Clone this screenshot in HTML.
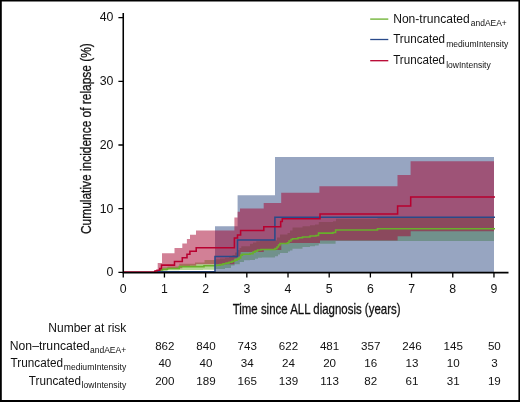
<!DOCTYPE html>
<html><head><meta charset="utf-8"><title>Cumulative incidence of relapse</title>
<style>html,body{margin:0;padding:0;background:#fff;}body{width:520px;height:402px;overflow:hidden;font-family:"Liberation Sans",sans-serif;}</style></head>
<body>
<svg width="520" height="402" viewBox="0 0 520 402" style="display:block;will-change:transform" font-family="'Liberation Sans', sans-serif" fill="#111">
<rect x="0" y="0" width="520" height="402" fill="#fff"/>
<path d="M156,272 H158 V270.5 H160 V269 H162.5 V267.5 H167.5 V266.6 H179.3 V263.7 H195 V262.5 H204.5 V260.1 H215 V259.2 H220 V258.5 H225 V257.8 H229 V256.5 H232.5 V255 H235 V252.5 H237.5 V250 H239.5 V248 H241.25 V246.3 H250 V243.75 H253 V242.5 H256.25 V241.25 H260 V240.5 H275 V240.3 H277 V237.5 H280 V234.4 H287.5 V233 H290 V230.6 H292.5 V227.5 H302.5 V226.25 H310 V225.3 H315 V224.4 H318.75 V221.9 H333 V221.3 H336 V218.75 H377.5 V217.6 H494 V241.1 H335.6 V243.75 H318.75 V245.6 H315 V246.2 H310 V247 H302.5 V248.75 H292.5 V250.6 H290 V251.5 H288 V253.1 H280 V254.5 H278 V256.3 H275 V257.4 H262 V257.8 H258 V258.8 H255 V260.0 H250 V260.25 H244 V262.0 H239.8 V264.2 H234.6 V265.5 H231 V268.1 H225 V269.1 H215 V269.8 H203 V270 H179.3 V270.3 H167.5 V271 H162.5 V272 H156 Z" fill="#68b02b" fill-opacity="0.5"/>
<path d="M215,272 H215 V226.25 H237.6 V195.3 H275 V157 H494 V272.4 H215 Z" fill="#2f4b83" fill-opacity="0.5"/>
<path d="M154.5,272 H155 V270 H157.7 V263.1 H162 V253.2 H174.5 V248.1 H182.3 V243.5 H186.9 V239 H190 V234.75 H196 V230.6 H234.4 V217.5 H237.6 V211.8 H240 V208.4 H263.7 V203 H281.2 V192.8 H319.4 V186.3 H397.5 V175 H410.6 V161.25 H494 V231.25 H410.7 V236.25 H397.6 V240.6 H320 V243 H281.3 V250 H263.8 V252 H240.6 V256.5 H237.5 V258.5 H234.4 V264.2 H196.2 V265.8 H189.9 V266.2 H187 V266.5 H182.3 V268.2 H174.5 V268.8 H161.5 V271 H158 V272 H154.5 Z" fill="#a5022d" fill-opacity="0.5"/>
<path d="M155,272 H157 V271 H160 V270 H162.5 V269.2 H167.5 V268.5 H179.3 V266.6 H199 V266.6 H204 V265.8 H216 V265.2 H220 V264.6 H223 V263.8 H226 V263.1 H229 V262.2 H232 V261.3 H234.6 V260.1 H237 V259.1 H239 V258.0 H240.7 V255.1 H242.4 V254.2 H250 V253.6 H253 V252.1 H255 V251.1 H257.5 V250.0 H261 V249.5 H275 V248.6 H277 V247 H278.5 V245 H280 V243.5 H287.5 V242.7 H289 V241 H291 V239.5 H292.5 V238.7 H298 V237.8 H302.5 V236.9 H310 V236 H316 V235.5 H318.5 V233.1 H333 V232.5 H335.6 V230 H377.5 V228.75 H495" fill="none" stroke="#68b02b" stroke-width="1.55"/>
<path d="M157,271.8 H215 V256.4 H237.5 V240 H274.9 V217.3 H495" fill="none" stroke="#294a8a" stroke-width="1.55"/>
<path d="M123.3,272.1 H154.9 V271 H157 V270.2 H159.8 V268.6 H161.5 V265.1 H174.5 V261.4 H182.3 V257.8 H187 V254.2 H189.9 V251.25 H196.2 V247.7 H234.4 V238 H237.5 V235 H240.6 V230.5 H263.8 V226.8 H280.7 V221.5 H282.3 V218.8 H320 V214 H397.6 V206 H410.7 V197 H495" fill="none" stroke="#b8002f" stroke-width="1.55"/>
<path d="M123.25,13 V272.6 M122.55,272.6 H508.5" fill="none" stroke="#000" stroke-width="1.55"/>
<path d="M123.25,272.6 V277.4 M164.44,272.6 V277.4 M205.63,272.6 V277.4 M246.82,272.6 V277.4 M288.01,272.6 V277.4 M329.20,272.6 V277.4 M370.39,272.6 V277.4 M411.58,272.6 V277.4 M452.77,272.6 V277.4 M493.96,272.6 V277.4 M118.4,272.40 H123.25 M118.4,208.70 H123.25 M118.4,145.00 H123.25 M118.4,81.30 H123.25 M118.4,17.60 H123.25 " fill="none" stroke="#000" stroke-width="1.3"/>
<text x="123.25" y="292.5" font-size="12.3" text-anchor="middle">0</text>
<text x="164.44" y="292.5" font-size="12.3" text-anchor="middle">1</text>
<text x="205.63" y="292.5" font-size="12.3" text-anchor="middle">2</text>
<text x="246.82" y="292.5" font-size="12.3" text-anchor="middle">3</text>
<text x="288.01" y="292.5" font-size="12.3" text-anchor="middle">4</text>
<text x="329.20" y="292.5" font-size="12.3" text-anchor="middle">5</text>
<text x="370.39" y="292.5" font-size="12.3" text-anchor="middle">6</text>
<text x="411.58" y="292.5" font-size="12.3" text-anchor="middle">7</text>
<text x="452.77" y="292.5" font-size="12.3" text-anchor="middle">8</text>
<text x="493.96" y="292.5" font-size="12.3" text-anchor="middle">9</text>
<text x="113.4" y="276.20" font-size="12.3" text-anchor="end">0</text>
<text x="113.4" y="212.50" font-size="12.3" text-anchor="end">10</text>
<text x="113.4" y="148.80" font-size="12.3" text-anchor="end">20</text>
<text x="113.4" y="85.10" font-size="12.3" text-anchor="end">30</text>
<text x="113.4" y="21.40" font-size="12.3" text-anchor="end">40</text>
<text x="232.7" y="313.8" font-size="15" textLength="167.8" lengthAdjust="spacingAndGlyphs" stroke="#111" stroke-width="0.3">Time since ALL diagnosis (years)</text>
<text transform="translate(90.5,234) rotate(-90)" font-size="15" textLength="190.8" lengthAdjust="spacingAndGlyphs" stroke="#111" stroke-width="0.3">Cumulative incidence of relapse (%)</text>
<path d="M370.2,19.1 H388.3" stroke="#68b02b" stroke-width="1.3" fill="none"/>
<text x="393.2" y="22.7" font-size="12" textLength="76.5" lengthAdjust="spacingAndGlyphs">Non-truncated</text>
<text x="470.8" y="26.299999999999997" font-size="8.2" textLength="36" lengthAdjust="spacingAndGlyphs">andAEA+</text>
<path d="M370.2,39.5 H388.3" stroke="#294a8a" stroke-width="1.3" fill="none"/>
<text x="393.2" y="43.199999999999996" font-size="12" textLength="51.9" lengthAdjust="spacingAndGlyphs">Truncated</text>
<text x="446.2" y="46.8" font-size="8.2" textLength="62.2" lengthAdjust="spacingAndGlyphs">mediumIntensity</text>
<path d="M370.2,60.7 H388.3" stroke="#b8002f" stroke-width="1.3" fill="none"/>
<text x="393.2" y="64.3" font-size="12" textLength="51.9" lengthAdjust="spacingAndGlyphs">Truncated</text>
<text x="446.2" y="67.9" font-size="8.2" textLength="44.5" lengthAdjust="spacingAndGlyphs">lowIntensity</text>
<text x="48.3" y="332.1" font-size="12.3" textLength="78" lengthAdjust="spacingAndGlyphs">Number at risk</text>
<text x="9.8" y="349.6" font-size="12.3" textLength="79.9" lengthAdjust="spacingAndGlyphs">Non–truncated</text>
<text x="90.0" y="352.7" font-size="8.2" textLength="36.2" lengthAdjust="spacingAndGlyphs">andAEA+</text>
<text x="10.600000000000001" y="367.20000000000005" font-size="12.3" textLength="52.400000000000006" lengthAdjust="spacingAndGlyphs">Truncated</text>
<text x="63.800000000000004" y="370.3" font-size="8.2" textLength="62.4" lengthAdjust="spacingAndGlyphs">mediumIntensity</text>
<text x="28.8" y="384.70000000000005" font-size="12.3" textLength="52.2" lengthAdjust="spacingAndGlyphs">Truncated</text>
<text x="81.5" y="387.8" font-size="8.2" textLength="44.7" lengthAdjust="spacingAndGlyphs">lowIntensity</text>
<text x="164.84" y="349.6" font-size="11.6" text-anchor="middle">862</text>
<text x="206.03" y="349.6" font-size="11.6" text-anchor="middle">840</text>
<text x="247.22" y="349.6" font-size="11.6" text-anchor="middle">743</text>
<text x="288.41" y="349.6" font-size="11.6" text-anchor="middle">622</text>
<text x="329.60" y="349.6" font-size="11.6" text-anchor="middle">481</text>
<text x="370.79" y="349.6" font-size="11.6" text-anchor="middle">357</text>
<text x="411.98" y="349.6" font-size="11.6" text-anchor="middle">246</text>
<text x="453.17" y="349.6" font-size="11.6" text-anchor="middle">145</text>
<text x="494.36" y="349.6" font-size="11.6" text-anchor="middle">50</text>
<text x="164.84" y="367.2" font-size="11.6" text-anchor="middle">40</text>
<text x="206.03" y="367.2" font-size="11.6" text-anchor="middle">40</text>
<text x="247.22" y="367.2" font-size="11.6" text-anchor="middle">34</text>
<text x="288.41" y="367.2" font-size="11.6" text-anchor="middle">24</text>
<text x="329.60" y="367.2" font-size="11.6" text-anchor="middle">20</text>
<text x="370.79" y="367.2" font-size="11.6" text-anchor="middle">16</text>
<text x="411.98" y="367.2" font-size="11.6" text-anchor="middle">13</text>
<text x="453.17" y="367.2" font-size="11.6" text-anchor="middle">10</text>
<text x="494.36" y="367.2" font-size="11.6" text-anchor="middle">3</text>
<text x="164.84" y="384.7" font-size="11.6" text-anchor="middle">200</text>
<text x="206.03" y="384.7" font-size="11.6" text-anchor="middle">189</text>
<text x="247.22" y="384.7" font-size="11.6" text-anchor="middle">165</text>
<text x="288.41" y="384.7" font-size="11.6" text-anchor="middle">139</text>
<text x="329.60" y="384.7" font-size="11.6" text-anchor="middle">113</text>
<text x="370.79" y="384.7" font-size="11.6" text-anchor="middle">82</text>
<text x="411.98" y="384.7" font-size="11.6" text-anchor="middle">61</text>
<text x="453.17" y="384.7" font-size="11.6" text-anchor="middle">31</text>
<text x="494.36" y="384.7" font-size="11.6" text-anchor="middle">19</text>
<path d="M0.9,0 V402" stroke="#000" stroke-width="1.8" fill="none"/>
<path d="M0,0.75 H520" stroke="#000" stroke-width="1.6" fill="none"/>
<path d="M519.2,0 V402" stroke="#000" stroke-width="1.6" fill="none"/>
<path d="M0,401 H520" stroke="#000" stroke-width="2" fill="none"/>
</svg>
</body></html>
